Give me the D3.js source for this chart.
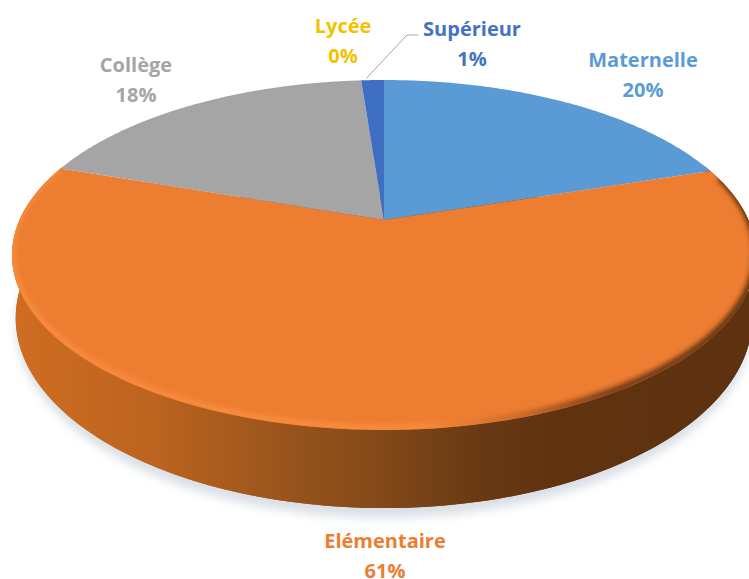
<!DOCTYPE html>
<html>
<head>
<meta charset="utf-8">
<script src="https://cdn.jsdelivr.net/npm/d3@7"></script>
<style>
  html, body { margin: 0; padding: 0; background: #fff; }
  svg { display: block; }
  text { font-family: "Open Sans", Lato, sans-serif; font-weight: 700; text-anchor: middle; }
</style>
</head>
<body>
<svg id="chart" width="749" height="579"></svg>
<script>
// values
const categories = ['Maternelle', 'Elémentaire', 'Collège', 'Lycée', 'Supérieur'];
const shares = [20, 60.3, 18.5, 0, 1.2];
const shareLabels = ['20%', '61%', '18%', '0%', '1%'];
const colors = ['#5b9bd5', '#ed7d31', '#a5a5a5', '#ffc000', '#3f6fc2'];
const labelColors = ['#5b9bd5', '#ed7d31', '#a5a5a5', '#f2c200', '#4472c4'];

const svg = d3.select('#chart');
const defs = svg.append('defs');

// perspective of the tilted disc
const apex = { x: 384, y: 220 };
const tilt = 0.2;
const radiusX = 364.5;
const radiusY = 168;
const drop = 60;
const shrinkX = 0.01;
const growY = 0.086;

const project = (t, z = 0) => {
  const u = Math.sin(t);
  const v = -Math.cos(t);
  const d = 1 - tilt * v;
  return [
    apex.x + (radiusX * (1 - shrinkX * z) * u) / d,
    apex.y + (radiusY * (1 + growY * z) * v) / d + drop * z
  ];
};

const line = d3.line();
const sweep = (a, b, z = 0) => d3.range(0, 1.0001, 1 / 160).map(f => project(a + (b - a) * f, z));
const rad = d => (d * Math.PI) / 180;

// gradients and blurs
const wallGrad = defs.append('linearGradient')
  .attr('id', 'wall').attr('gradientUnits', 'userSpaceOnUse')
  .attr('x1', 12).attr('x2', 756).attr('y1', 0).attr('y2', 0);
[[0, '#cf6d22'], [0.2, '#bb631f'], [0.38, '#96531c'], [0.5, '#824918'], [0.62, '#693a14'], [0.74, '#5f3210'], [1, '#5e3110']]
  .forEach(s => wallGrad.append('stop').attr('offset', s[0]).attr('stop-color', s[1]));

const rimGrad = defs.append('linearGradient')
  .attr('id', 'rim').attr('gradientUnits', 'userSpaceOnUse')
  .attr('x1', 12).attr('x2', 756).attr('y1', 0).attr('y2', 0);
[[0, '#f88c3c'], [0.55, '#f88c3c'], [0.68, '#c96a28'], [0.8, '#6e3a14'], [1, '#5e3110']]
  .forEach(s => rimGrad.append('stop').attr('offset', s[0]).attr('stop-color', s[1]));

defs.append('filter').attr('id', 'soft').attr('x', '-10%').attr('y', '-10%').attr('width', '120%').attr('height', '120%')
  .append('feGaussianBlur').attr('stdDeviation', 5);
defs.append('filter').attr('id', 'softer').attr('x', '-10%').attr('y', '-10%').attr('width', '120%').attr('height', '120%')
  .append('feGaussianBlur').attr('stdDeviation', 2.4);
defs.append('clipPath').attr('id', 'topClip')
  .append('path').attr('d', line(sweep(0, 2 * Math.PI)) + 'Z');

// shadow under the disc
svg.append('path')
  .attr('d', line(sweep(0, 2 * Math.PI, 1.12)) + 'Z')
  .attr('fill', '#c9d2da')
  .attr('opacity', 0.7)
  .attr('filter', 'url(#soft)');

// side wall
const wallTop = sweep(rad(70), rad(290), 0);
const wallBottom = sweep(rad(70), rad(290), 1).reverse();
svg.append('path').attr('d', line(wallTop.concat(wallBottom)) + 'Z').attr('fill', 'url(#wall)');
svg.append('path').attr('d', line(sweep(rad(60), rad(300), 1))).attr('fill', 'url(#wall)');

// slices
const arcs = d3.pie().sort(null).value(d => d)(shares);
svg.append('g').selectAll('path')
  .data(arcs)
  .join('path')
  .attr('d', d => line([[apex.x, apex.y]].concat(sweep(d.startAngle, d.endAngle))) + 'Z')
  .attr('fill', (d, i) => colors[i]);

// bevel along the front edge, only on the big slice
svg.append('g').attr('clip-path', 'url(#topClip)')
  .append('path')
  .attr('d', line(sweep(arcs[1].startAngle + 0.06, arcs[1].endAngle - 0.02, 0).map(p => [p[0], p[1] - 2])))
  .attr('fill', 'none')
  .attr('stroke', 'url(#rim)')
  .attr('stroke-width', 7)
  .attr('filter', 'url(#softer)');

// leader line for the small slice
const sup = arcs[4];
const from = project((sup.startAngle + sup.endAngle) / 2 - 0.02);
svg.append('path')
  .attr('d', line([[from[0], from[1] - 2], [407, 35], [418, 35]]))
  .attr('fill', 'none')
  .attr('stroke', '#a6a6a6')
  .attr('stroke-width', 1);

// labels
const labelPos = [[643, 67], [385, 548], [136, 72], [343, 33], [472, 36]];
const label = svg.append('g').selectAll('text')
  .data(categories)
  .join('text')
  .attr('x', (d, i) => labelPos[i][0])
  .attr('y', (d, i) => labelPos[i][1])
  .attr('font-size', 20)
  .attr('fill', (d, i) => labelColors[i]);
label.append('tspan').text(d => d);
label.append('tspan')
  .attr('x', (d, i) => labelPos[i][0])
  .attr('dy', 29.5)
  .text((d, i) => shareLabels[i]);
</script>
</body>
</html>
